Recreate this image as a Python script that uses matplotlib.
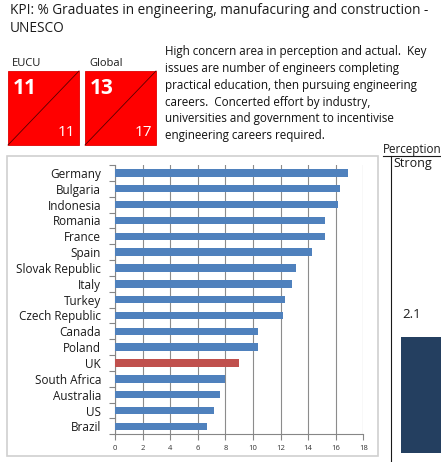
import matplotlib
matplotlib.use('Agg')
import matplotlib.pyplot as plt
from matplotlib.patches import Rectangle
from matplotlib.lines import Line2D

# data
countries = ['Germany', 'Bulgaria', 'Indonesia', 'Romania', 'France', 'Spain',
             'Slovak Republic', 'Italy', 'Turkey', 'Czech Republic', 'Canada',
             'Poland', 'UK', 'South Africa', 'Australia', 'US', 'Brazil']
values = [16.9, 16.3, 16.2, 15.2, 15.2, 14.3, 13.1, 12.8, 12.3, 12.2,
          10.4, 10.4, 9.0, 8.0, 7.6, 7.2, 6.7]
highlight = 'UK'
x_ticks = [0, 2, 4, 6, 8, 10, 12, 14, 16, 18]

box_labels = ['EUCU', 'Global']
box_top = [11, 13]
box_bottom = [11, 17]

title_lines = ['KPI: % Graduates in engineering, manufacuring and construction -', 'UNESCO']
note_lines = ['High concern area in perception and actual.  Key',
              'issues are number of engineers completing',
              'practical education, then pursuing engineering',
              'careers.  Concerted effort by industry,',
              'universities and government to incentivise',
              'engineering careers required.']
perception_value = '2.1'

W, H = 441, 462
FONT = 'Open Sans'
plt.rcParams['font.family'] = [FONT, 'DejaVu Sans']

fig = plt.figure(figsize=(W / 100, H / 100), dpi=100)


def fx(x):
    return x / W


def fy(y):
    return 1 - y / H


def ftext(x, y, s, **kw):
    kw.setdefault('va', 'center')
    kw.setdefault('ha', 'left')
    return fig.text(fx(x), fy(y), s, **kw)


# title
for i, line in enumerate(title_lines):
    ftext(10, 11 + i * 18, line, fontsize=9.8, color='#1a1a1a')

# red KPI boxes
for i, (lab, top, bot) in enumerate(zip(box_labels, box_top, box_bottom)):
    x0 = 8 + i * 77
    ftext(x0 + 4, 64, lab, fontsize=8, color='#1a1a1a')
    fig.patches.append(Rectangle((fx(x0), fy(145)), fx(71), 74 / H,
                                 transform=fig.transFigure, facecolor='#ff0000',
                                 edgecolor='#e00000', lw=0.6))
    fig.lines.append(Line2D([fx(x0), fx(x0 + 71)], [fy(145), fy(71)],
                            transform=fig.transFigure, color='#5a0000', lw=0.6))
    ftext(x0 + 5, 89, str(top), fontsize=15, color='white', fontweight='bold')
    ftext(x0 + 67, 132, str(bot), fontsize=11, color='white', ha='right')

# explanation text
for i, line in enumerate(note_lines):
    ftext(165, 52 + i * 16.7, line, fontsize=8.4, color='#111111')

# chart frame (behind the axes)
fig.patches.append(Rectangle((fx(7), fy(456)), fx(371), 300 / H,
                             transform=fig.transFigure, facecolor='white',
                             edgecolor='#d0d0d0', lw=1.2, zorder=-1))

ax = fig.add_axes([fx(115), fy(434.3), fx(248.3), (434.3 - 165) / H])
ax.set_zorder(2)
ax.patch.set_alpha(0)
colors = ['#c0504d' if c == highlight else '#4f81bd' for c in countries]
ypos = list(range(len(countries)))
ax.barh(ypos, values, height=0.47, color=colors, zorder=3)
ax.set_ylim(len(countries) - 0.5, -0.5)
ax.set_xlim(0, 18)
ax.set_xticks(x_ticks)
ax.set_xticklabels([str(t) for t in x_ticks], fontsize=5.5, color='#333333')
ax.set_yticks(ypos)
ax.set_yticklabels(countries, fontsize=8.5, color='#1a1a1a')
ax.set_yticks([i - 0.5 for i in range(len(countries) + 1)], minor=True)
ax.tick_params(axis='y', which='major', length=0, pad=10)
ax.tick_params(axis='y', which='minor', length=4, width=0.8, color='#868686', direction='out')
ax.tick_params(axis='x', length=4, width=0.8, color='#868686', pad=4)
ax.grid(axis='x', color='#8c8c8c', lw=0.8, zorder=0)
for side in ['top', 'right']:
    ax.spines[side].set_visible(False)
for side in ['left', 'bottom']:
    ax.spines[side].set_color('#868686')
    ax.spines[side].set_linewidth(0.8)

# right-hand perception panel (cut off at the edge in the original)
ftext(383, 149, 'Perception', fontsize=8.4, color='#1a1a1a')
fig.lines.append(Line2D([fx(383), fx(441)], [fy(156), fy(156)],
                        transform=fig.transFigure, color='#1a1a1a', lw=0.8))
fig.lines.append(Line2D([fx(391), fx(391)], [fy(156), fy(462)],
                        transform=fig.transFigure, color='#1a1a1a', lw=0.8))
ftext(393, 164, 'Strong', fontsize=9, color='#1a1a1a')
ftext(412, 315, perception_value, fontsize=9.5, color='#1a1a1a', ha='center')
fig.patches.append(Rectangle((fx(401), fy(453)), fx(45), (453 - 337) / H,
                             transform=fig.transFigure, facecolor='#243f60',
                             edgecolor='none'))

fig.savefig('out.png', dpi=100)
